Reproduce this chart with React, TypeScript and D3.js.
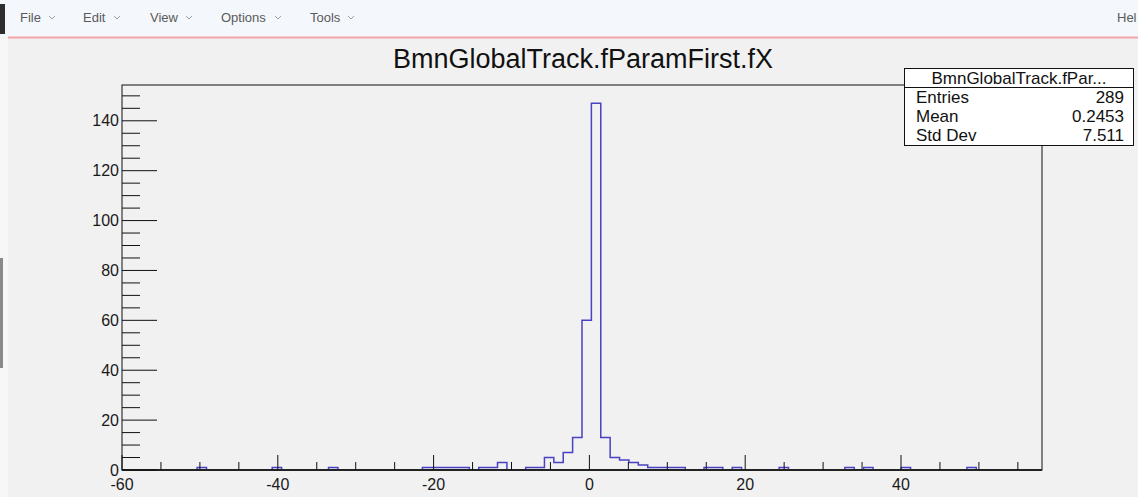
import React from "react";
import * as d3 from "d3";

// ---- data ----
const histTitle = "BmnGlobalTrack.fParamFirst.fX";
const statsTitle = "BmnGlobalTrack.fPar...";
const statLabels = ["Entries", "Mean", "Std Dev"];
const statValues = ["289", "0.2453", "7.511"];
const menuItems = ["File", "Edit", "View", "Options", "Tools"];

const xMin = -60;
const xMax = 58.1;
const nBins = 98;
const yMax = 154.35;
// non-empty bins: index and content
const binIndex = [8, 16, 22, 32, 33, 34, 35, 36, 38, 39, 40, 43, 44, 45, 46, 47, 48, 49, 50, 51, 52, 53, 54, 55, 56, 57, 58, 59, 62, 63, 65, 70, 77, 79, 83, 90];
const binCount = [1, 1, 1, 1, 1, 1, 1, 1, 1, 1, 3, 1, 1, 5, 3, 7, 13, 60, 147, 13, 5, 4, 3, 2, 1, 1, 1, 1, 1, 1, 1, 1, 1, 1, 1, 1];
const xMajorTicks = [-60, -40, -20, 0, 20, 40];
const yMajorTicks = [0, 20, 40, 60, 80, 100, 120, 140];

const W = 1138;
const H = 497;
const FONT = "'Liberation Sans', Arial, Helvetica, sans-serif";

export default function App() {
  const frame = { l: 122, r: 1042, t: 85, b: 470 };
  const x = d3.scaleLinear().domain([xMin, xMax]).range([frame.l, frame.r]);
  const y = d3.scaleLinear().domain([0, yMax]).range([frame.b, frame.t]);

  const counts = new Array(nBins).fill(0);
  binIndex.forEach((b, i) => (counts[b] = binCount[i]));
  const bw = (xMax - xMin) / nBins;
  const pts: [number, number][] = [[xMin, 0]];
  counts.forEach((c, i) => {
    pts.push([xMin + i * bw, c]);
    pts.push([xMin + (i + 1) * bw, c]);
  });
  pts.push([xMax, 0]);
  const histPath = d3
    .line<[number, number]>()
    .x((d) => x(d[0]))
    .y((d) => y(d[1]))(pts) as string;

  const xMinor = d3.range(xMin, xMax + 0.001, 5).filter((v) => !xMajorTicks.includes(v));
  const yMinor = d3.range(0, yMax, 5).filter((v) => !yMajorTicks.includes(v));

  const menuX = [20, 83, 150, 221, 310];
  const menuW = [22, 24, 29, 47, 31];

  return (
    <svg width={W} height={H} style={{ position: "absolute", left: 0, top: 0 }} fontFamily={FONT}>
      <rect x={0} y={0} width={W} height={H} fill="#f1f1f1" />
      {/* menu bar */}
      <rect x={0} y={0} width={W} height={37} fill="#f4f7fb" />
      <rect x={0} y={4} width={5} height={30} fill="#2e2e2e" />
      <line x1={8} x2={W} y1={37.5} y2={37.5} stroke="#f2a3ab" strokeWidth={2} />
      <rect x={0} y={38} width={8} height={H - 38} fill="#f7f7f7" />
      <rect x={0} y={258} width={3} height={110} fill="#8a8a8a" />
      {menuItems.map((m, i) => (
        <g key={m}>
          <text x={menuX[i]} y={22} fontSize={13} fill="#5a5a5a">
            {m}
          </text>
          <path
            d={`M${menuX[i] + menuW[i] + 7},${16} l3,3 l3,-3`}
            fill="none"
            stroke="#a0a0a0"
            strokeWidth={1}
          />
        </g>
      ))}
      <text x={1117} y={22} fontSize={13} fill="#5a5a5a">
        Hel
      </text>

      {/* title */}
      <text x={583} y={68} fontSize={27} textAnchor="middle" fill="#111">
        {histTitle}
      </text>

      {/* histogram */}
      <path d={histPath} fill="none" stroke="#4a42c4" strokeWidth={1.5} />

      {/* frame */}
      <rect x={frame.l} y={frame.t} width={frame.r - frame.l} height={frame.b - frame.t} fill="none" stroke="#111" strokeWidth={1} />
      <line x1={frame.l} x2={frame.r} y1={frame.b} y2={frame.b} stroke="#222" strokeWidth={2} />

      {/* x axis ticks */}
      {xMajorTicks.map((v) => (
        <g key={"xm" + v}>
          <line x1={x(v)} x2={x(v)} y1={frame.b} y2={frame.b - 15} stroke="#111" />
          <text x={x(v)} y={490} fontSize={16} textAnchor="middle" fill="#1a1a1a">
            {v}
          </text>
        </g>
      ))}
      {xMinor.map((v) => (
        <line key={"xn" + v} x1={x(v)} x2={x(v)} y1={frame.b} y2={frame.b - 8} stroke="#111" />
      ))}

      {/* y axis ticks */}
      {yMajorTicks.map((v) => (
        <g key={"ym" + v}>
          <line x1={frame.l} x2={frame.l + 35} y1={y(v)} y2={y(v)} stroke="#111" />
          <text x={119} y={y(v) + 5.5} fontSize={16} textAnchor="end" fill="#1a1a1a">
            {v}
          </text>
        </g>
      ))}
      {yMinor.map((v) => (
        <line key={"yn" + v} x1={frame.l} x2={frame.l + 18} y1={y(v)} y2={y(v)} stroke="#111" />
      ))}

      {/* stats box */}
      <rect x={904.5} y={68.5} width={229} height={77} fill="#ffffff" stroke="#111" strokeWidth={1} />
      <line x1={904.5} x2={1133.5} y1={87.5} y2={87.5} stroke="#111" />
      <text x={1019} y={84} fontSize={17} textAnchor="middle" fill="#111">
        {statsTitle}
      </text>
      {statLabels.map((s, i) => (
        <g key={s}>
          <text x={916} y={103 + i * 19} fontSize={17} fill="#111">
            {s}
          </text>
          <text x={1124} y={103 + i * 19} fontSize={17} textAnchor="end" fill="#111">
            {statValues[i]}
          </text>
        </g>
      ))}
    </svg>
  );
}
